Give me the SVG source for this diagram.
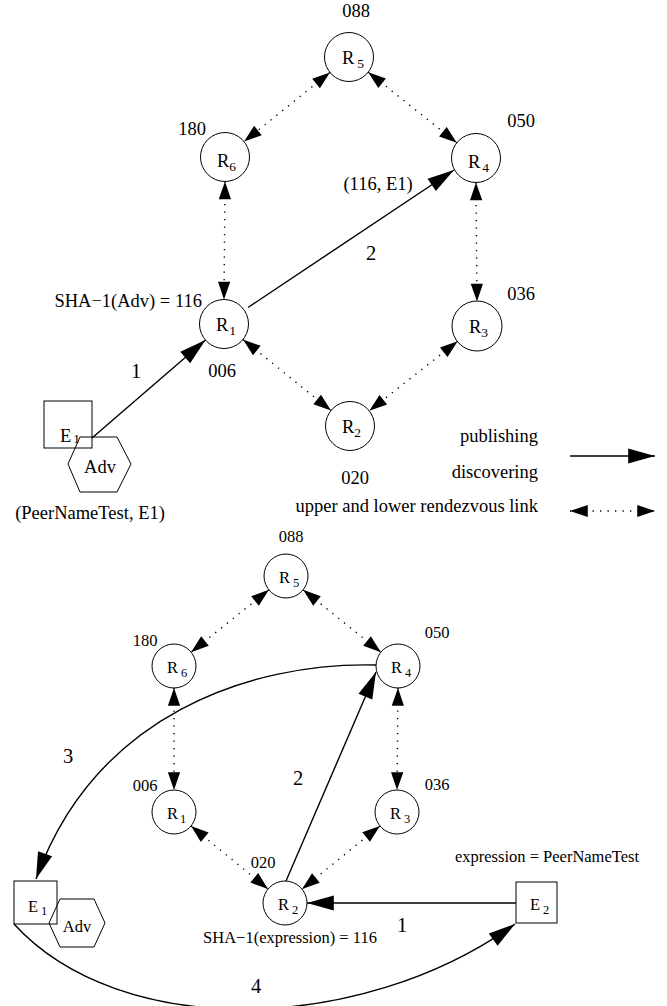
<svg xmlns="http://www.w3.org/2000/svg" width="667" height="1006" viewBox="0 0 667 1006">
<style>
text{font-family:"Liberation Serif","Times New Roman",serif;fill:#000}
.t{font-size:18.5px}
.b{font-size:16.5px}
.n{font-size:20.5px}
.node{fill:#fff;stroke:#000;stroke-width:1}
.box{fill:none;stroke:#000;stroke-width:1}
.pub{fill:none;stroke:#000;stroke-width:1.4;marker-end:url(#ah)}
.dot{fill:none;stroke:#000;stroke-width:1.4;stroke-dasharray:1.3 6.2;marker-start:url(#dh);marker-end:url(#dh)}
</style>
<defs>
<marker id="ah" markerUnits="userSpaceOnUse" markerWidth="30" markerHeight="20" viewBox="-26 -8 28 16" refX="0" refY="0" orient="auto"><path d="M0,0 L-25,-7 L-25,7 z" fill="#000"/></marker>
<marker id="dh" markerUnits="userSpaceOnUse" markerWidth="20" markerHeight="14" viewBox="-17 -6 18 12" refX="0" refY="0" orient="auto-start-reverse"><path d="M0,0 L-16,-5.5 L-16,5.5 z" fill="#000"/></marker>
</defs>

<g id="connectors">
<!-- top -->
<line class="dot" x1="329.9" y1="72.4" x2="244.1" y2="141.6"/>
<line class="dot" x1="368.2" y1="72.2" x2="456.8" y2="142.8"/>
<line class="dot" x1="225" y1="181.5" x2="224" y2="299.5"/>
<line class="dot" x1="476" y1="182.5" x2="477" y2="301.5"/>
<line class="dot" x1="243" y1="339.4" x2="331" y2="410.6"/>
<line class="dot" x1="457.7" y1="341.2" x2="369.3" y2="410.8"/>
<line class="pub" x1="92" y1="438" x2="205.5" y2="340"/>
<line class="pub" x1="248" y1="307.5" x2="454" y2="170"/>
<!-- legend -->
<line class="pub" x1="570" y1="456" x2="655" y2="456"/>
<line class="dot" x1="570" y1="511" x2="655" y2="511"/>
<!-- bottom -->
<line class="dot" x1="268.9" y1="589.8" x2="191.1" y2="652.2"/>
<line class="dot" x1="303.1" y1="589.8" x2="380.9" y2="652.2"/>
<line class="dot" x1="174" y1="688" x2="174" y2="790"/>
<line class="dot" x1="398" y1="688" x2="397" y2="790"/>
<line class="dot" x1="191" y1="825.9" x2="268" y2="889.1"/>
<line class="dot" x1="379.9" y1="825.9" x2="302.1" y2="889.1"/>
<line class="pub" x1="516" y1="903" x2="307" y2="903"/>
<line class="pub" x1="286" y1="881" x2="376" y2="672"/>
<path class="pub" d="M376,665 C250,662 95,715 36,879"/>
<path class="pub" d="M14,924 C120,1040 360,1035 515,924"/>
</g>

<!-- top diagram nodes -->
<g id="t-R5"><circle class="node" cx="349" cy="57" r="24.5"/><text class="t" x="342" y="64">R<tspan font-size="13.5" dx="3" dy="4">5</tspan></text></g>
<g id="t-R6"><circle class="node" cx="225" cy="157" r="24.5"/><text class="t" x="217" y="167">R<tspan font-size="13.5" dy="4">6</tspan></text></g>
<g id="t-R4"><circle class="node" cx="476" cy="158" r="24.5"/><text class="t" x="468" y="168">R<tspan font-size="13.5" dx="2" dy="4">4</tspan></text></g>
<g id="t-R1"><circle class="node" cx="224" cy="324" r="24.5"/><text class="t" x="216" y="331">R<tspan font-size="13.5" dx="1" dy="4">1</tspan></text></g>
<g id="t-R3"><circle class="node" cx="477" cy="326" r="25"/><text class="t" x="469" y="333">R<tspan font-size="13.5" dy="4">3</tspan></text></g>
<g id="t-R2"><circle class="node" cx="350" cy="426" r="24.5"/><text class="t" x="342" y="433">R<tspan font-size="13.5" dy="4">2</tspan></text></g>
<g id="t-E1"><rect class="box" x="44" y="401" width="48" height="47"/><text class="t" x="60" y="442">E<tspan font-size="13.5" dx="2" dy="1">1</tspan></text></g>
<g id="t-Adv"><polygon class="box" points="80,437 117,437 131,464 117,492 80,492 68,464"/><text class="t" x="100" y="473" text-anchor="middle">Adv</text></g>

<g id="top-labels">
<text class="t" x="356" y="17" text-anchor="middle">088</text>
<text class="t" x="192" y="135" text-anchor="middle">180</text>
<text class="t" x="521" y="127" text-anchor="middle">050</text>
<text class="t" x="378" y="190" text-anchor="middle">(116, E1)</text>
<text class="t" x="202" y="307" text-anchor="end">SHA−1(Adv) = 116</text>
<text class="t" x="222" y="377" text-anchor="middle">006</text>
<text class="t" x="521" y="300" text-anchor="middle">036</text>
<text class="t" x="355" y="484" text-anchor="middle">020</text>
<text class="n" x="136" y="378" text-anchor="middle">1</text>
<text class="n" x="371" y="260" text-anchor="middle">2</text>
<text class="t" x="90" y="519" text-anchor="middle">(PeerNameTest, E1)</text>
<text class="t" x="538" y="442" text-anchor="end">publishing</text>
<text class="t" x="538" y="478" text-anchor="end">discovering</text>
<text class="t" x="538" y="512" text-anchor="end">upper and lower rendezvous link</text>
</g>

<!-- bottom diagram nodes -->
<g id="b-R5"><circle class="node" cx="286" cy="576" r="22"/><text class="b" x="279" y="583">R<tspan font-size="12.5" dx="3" dy="4">5</tspan></text></g>
<g id="b-R6"><circle class="node" cx="174" cy="666" r="22"/><text class="b" x="167" y="673">R<tspan font-size="12.5" dx="3" dy="4">6</tspan></text></g>
<g id="b-R4"><circle class="node" cx="398" cy="666" r="22"/><text class="b" x="391" y="673">R<tspan font-size="12.5" dx="3" dy="4">4</tspan></text></g>
<g id="b-R1"><circle class="node" cx="174" cy="812" r="22"/><text class="b" x="167" y="819">R<tspan font-size="12.5" dx="2" dy="4">1</tspan></text></g>
<g id="b-R3"><circle class="node" cx="397" cy="812" r="22"/><text class="b" x="390" y="819">R<tspan font-size="12.5" dx="3" dy="4">3</tspan></text></g>
<g id="b-R2"><circle class="node" cx="285" cy="903" r="22"/><text class="b" x="278" y="910">R<tspan font-size="12.5" dx="3" dy="4">2</tspan></text></g>
<g id="b-E1"><rect class="box" x="14" y="881" width="43" height="43"/><text class="b" x="28" y="912">E<tspan font-size="12.5" dx="3" dy="3">1</tspan></text></g>
<g id="b-Adv"><polygon class="box" points="60,899 94,899 105,923 94,947 60,947 49,923"/><text class="b" x="77" y="932" text-anchor="middle" font-size="15">Adv</text></g>
<g id="b-E2"><rect class="box" x="516" y="882" width="41" height="41"/><text class="b" x="530" y="910">E<tspan font-size="12.5" dx="3" dy="4">2</tspan></text></g>

<g id="bottom-labels">
<text class="b" x="291" y="542" text-anchor="middle">088</text>
<text class="b" x="145" y="646" text-anchor="middle">180</text>
<text class="b" x="437" y="638" text-anchor="middle">050</text>
<text class="b" x="145" y="791" text-anchor="middle">006</text>
<text class="b" x="437" y="790" text-anchor="middle">036</text>
<text class="b" x="263" y="868" text-anchor="middle">020</text>
<text class="b" x="547" y="862" text-anchor="middle">expression = PeerNameTest</text>
<text class="b" x="290" y="943" text-anchor="middle">SHA−1(expression) = 116</text>
<text class="n" x="298" y="785" text-anchor="middle">2</text>
<text class="n" x="68" y="763" text-anchor="middle">3</text>
<text class="n" x="402" y="932" text-anchor="middle">1</text>
<text class="n" x="256" y="993" text-anchor="middle">4</text>
</g>
</svg>
